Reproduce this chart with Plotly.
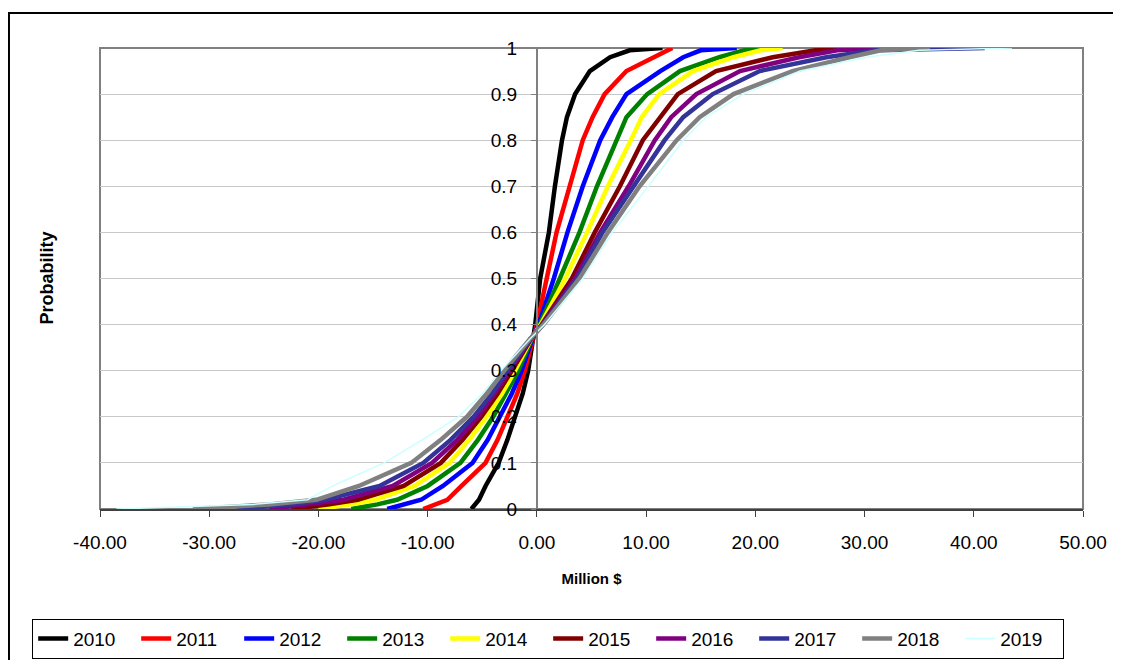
import plotly.graph_objects as go

# cumulative probability levels shared by every year
PROB = [0, 0.01, 0.02, 0.05, 0.1, 0.15, 0.2, 0.25, 0.3, 0.37, 0.4, 0.5,
        0.6, 0.7, 0.8, 0.85, 0.9, 0.95, 0.98, 0.995, 1]

# value (million $) reached at each probability level
Y2010 = [-6.0, -5.7, -5.3, -4.7, -3.5, -2.7, -2.0, -1.3, -0.8, -0.3, -0.15, 0.3,
         1.1, 1.65, 2.3, 2.75, 3.5, 4.85, 6.7, 8.5, 11.5]
Y2011 = [-10.4, -9.2, -8.2, -6.9, -4.7, -3.6, -2.7, -1.8, -1.1, -0.35, 0.0, 0.9,
         1.8, 3.0, 4.2, 5.1, 6.2, 8.2, 10.6, 11.8, 12.4]
Y2012 = [-13.7, -12.0, -10.6, -8.6, -5.9, -4.5, -3.4, -2.3, -1.4, -0.4, 0.15, 1.55,
         2.8, 4.2, 5.8, 6.9, 8.2, 11.3, 13.4, 15.0, 18.3]
Y2013 = [-17.0, -14.6, -12.8, -10.0, -7.0, -5.4, -4.0, -2.8, -1.7, -0.45, 0.25, 2.1,
         3.9, 5.5, 7.3, 8.2, 10.1, 13.1, 16.7, 19.0, 21.5]
Y2014 = [-20.0, -17.0, -14.8, -11.2, -8.0, -6.2, -4.6, -3.2, -2.0, -0.5, 0.35, 2.6,
         4.6, 6.5, 8.6, 9.6, 11.2, 14.3, 18.0, 20.5, 22.5]
Y2015 = [-22.5, -19.0, -16.4, -12.2, -8.8, -6.8, -5.1, -3.6, -2.3, -0.5, 0.45, 3.2,
         5.3, 7.6, 9.7, 11.3, 12.9, 16.4, 21.6, 25.5, 30.0]
Y2016 = [-24.5, -20.8, -17.7, -13.2, -9.6, -7.3, -5.4, -3.9, -2.5, -0.55, 0.5, 3.5,
         5.8, 8.4, 10.8, 12.3, 14.6, 18.6, 24.0, 27.5, 32.0]
Y2017 = [-27.5, -22.5, -19.4, -14.4, -10.4, -7.9, -5.8, -4.1, -2.7, -0.55, 0.55, 3.7,
         6.0, 8.8, 11.7, 13.4, 16.1, 20.4, 26.5, 31.0, 41.0]
Y2018 = [-31.5, -24.5, -20.2, -16.3, -11.5, -8.8, -6.4, -4.6, -3.0, -0.6, 0.6, 3.9,
         6.5, 9.4, 12.8, 14.9, 18.0, 23.4, 28.6, 31.5, 36.0]
Y2019 = [-38.5, -26.0, -21.0, -18.7, -14.0, -10.5, -7.2, -5.0, -3.3, -0.6, 0.7, 4.2,
         6.9, 10.2, 13.4, 15.5, 18.9, 24.1, 30.2, 35.0, 43.5]

YEARS = ["2010", "2011", "2012", "2013", "2014", "2015", "2016", "2017", "2018", "2019"]
SERIES = [Y2010, Y2011, Y2012, Y2013, Y2014, Y2015, Y2016, Y2017, Y2018, Y2019]
COLORS = ["#000000", "#FF0000", "#0000FF", "#008000", "#FFFF00",
          "#800000", "#800080", "#333399", "#808080", "#CCFFFF"]
WIDTHS = [4.5, 4.5, 4.5, 4.5, 4.5, 4.5, 4.5, 4.5, 4.5, 1.5]

X_TICKS = [-40, -30, -20, -10, 0, 10, 20, 30, 40, 50]
X_LABELS = ["-40.00", "-30.00", "-20.00", "-10.00", "0.00",
            "10.00", "20.00", "30.00", "40.00", "50.00"]
Y_TICKS = [0, 0.1, 0.2, 0.3, 0.4, 0.5, 0.6, 0.7, 0.8, 0.9, 1]
Y_LABELS = ["0", "0.1", "0.2", "0.3", "0.4", "0.5", "0.6", "0.7", "0.8", "0.9", "1"]

FONT = "Liberation Sans, Arial, sans-serif"

fig = go.Figure()
for name, xs, col, w in zip(YEARS, SERIES, COLORS, WIDTHS):
    fig.add_trace(go.Scatter(x=xs, y=PROB, name=name, mode="lines",
                             line=dict(color=col, width=w)))

# page body has an 8px margin, so the figure is shifted by 8px
fig.update_layout(
    width=1105, height=652,
    margin=dict(l=92, r=30, t=40, b=151, autoexpand=False),
    paper_bgcolor="white", plot_bgcolor="white",
    font=dict(family=FONT, size=18, color="#000000"),
    showlegend=True,
    legend=dict(
        orientation="h", x=-0.069, xanchor="left", y=-0.238, yanchor="top",
        bordercolor="#000000", borderwidth=1, bgcolor="white",
        font=dict(size=19), entrywidth=58, entrywidthmode="pixels",
    ),
    xaxis=dict(
        range=[-40, 50], tickvals=X_TICKS, ticktext=X_LABELS,
        showgrid=False, zeroline=False,
        showline=True, linecolor="#404040", linewidth=2,
        ticks="outside", ticklen=6, tickcolor="#404040", tickwidth=1,
        tickfont=dict(size=19), ticklabelstandoff=9,
        title=dict(text="<b>Million $</b>", font=dict(size=15), standoff=22),
    ),
    yaxis=dict(
        range=[0, 1], tickvals=Y_TICKS, ticktext=Y_LABELS,
        showgrid=True, gridcolor="#C8C8C8", gridwidth=1,
        zeroline=False, anchor="free", position=40 / 90,
        showline=True, linecolor="#808080", linewidth=2,
        ticks="outside", ticklen=5, tickcolor="#808080",
        tickfont=dict(size=19), ticklabelstandoff=10,
    ),
)

# plot-area frame
fig.add_shape(type="rect", xref="x domain", yref="y domain",
              x0=0, x1=1, y0=0, y1=1, line=dict(color="#808080", width=2),
              layer="below")
# outer chart border
fig.add_shape(type="rect", xref="paper", yref="paper",
              x0=-0.0926, x1=1.2, y0=-0.5, y1=1.0758,
              line=dict(color="#000000", width=2))

fig.add_annotation(text="<b>Probability</b>", xref="paper", yref="paper",
                   x=-0.0549, xanchor="center", y=0.5, yanchor="middle",
                   textangle=-90, showarrow=False, font=dict(size=18))

fig.write_html("out.html")
